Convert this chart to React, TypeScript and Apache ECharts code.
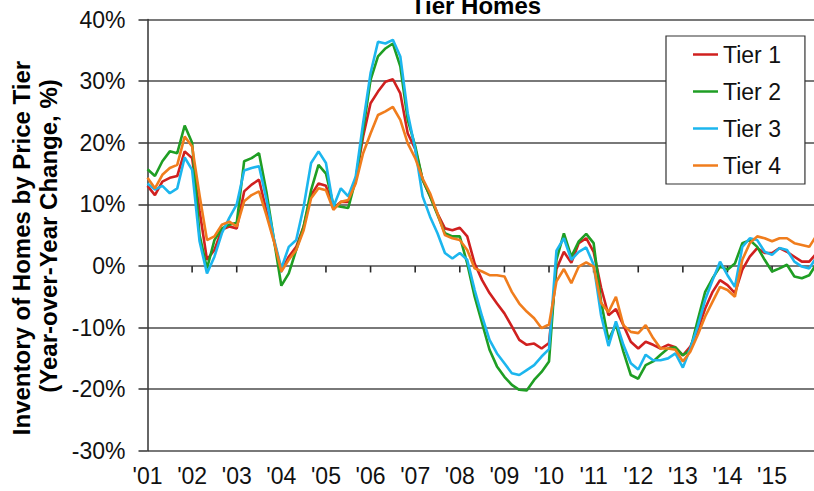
import React, { useEffect, useRef } from "react";
import * as echarts from "echarts";

// Bi-monthly observations starting Jan 2001 (step = 2 months)
const START_YEAR = 2001;
const STEP = 1 / 6;

const seriesNames = ["Tier 1", "Tier 2", "Tier 3", "Tier 4"];
const seriesColors = ["#d0201f", "#1f9e24", "#1cb6ee", "#f07d1d"];
const tickYears = [2002, 2003, 2004, 2005, 2006, 2007, 2008, 2009, 2010, 2011, 2012, 2013, 2014, 2015];

const tier1 = [
  13, 11.5, 13.7, 14.3, 14.6, 18.6, 17.5, 9, 1, 2.6, 5.9, 6.4, 6.1, 12.1, 13.2, 14, 8.9, 4.2,
  -0.8, 1.5, 3.1, 6.4, 11.5, 13.4, 13, 9.4, 10.4, 10.4, 14, 21, 26.4, 28.3, 29.9, 30.3, 28, 21.5,
  19, 14, 11.3, 8.5, 6.1, 5.8, 6.2, 4.8, 0.4, -2.3, -4.4, -6.1, -7.7, -9.8, -12, -12.8, -12.6, -13.4,
  -12.5, -0.5, 2.3, 0.5, 3.7, 4.5, 2.3, -3.5, -8, -7, -9.6, -12.3, -13.4, -12.3, -12.8, -13.4, -12.8, -13.2,
  -14.5, -13.1, -10.4, -6.9, -4.2, -2.3, -3.1, -4.4, -0.6, 1.5, 2.9, 2.1, 2.1, 2.9, 2.3, 1.5, 0.7, 0.7,
  2.1,
];

const tier2 = [
  15.7, 14.6, 17, 18.6, 18.3, 22.8, 20, 5, -0.4, 4.2, 6.1, 6.7, 7, 17, 17.5, 18.3, 12, 4.3,
  -3.2, -1.2, 2.6, 6.4, 12.3, 16.4, 15, 9.9, 9.6, 9.4, 14, 22, 30.2, 34, 35.3, 36.1, 32.4, 23.7,
  19.5, 14, 11.3, 8.3, 5.3, 4.8, 4.8, 0.4, -5, -9.3, -13.6, -16.3, -18, -19.3, -20.1, -20.2, -18.5, -17.2,
  -15.5, 1, 5.3, 1.5, 4, 5.2, 3.7, -5.8, -12, -9.5, -13.9, -17.7, -18.3, -16.1, -15.5, -14.4, -13.4, -13.2,
  -14.5, -13.6, -8.8, -4.2, -2, -0.1, -0.6, 0.4, 3.7, 4.2, 3.1, 1, -0.9, -0.4, 0.2, -1.7, -2, -1.5,
  0.4,
];

const tier3 = [
  13.4, 12.4, 13, 11.8, 12.6, 17.6, 15.6, 4, -1.2, 1.5, 5.3, 7.8, 10, 15.5, 15.9, 16.2, 10.8, 4.4,
  -0.4, 3.1, 4.2, 9.6, 16.7, 18.6, 16.7, 9.6, 12.6, 11.3, 14.5, 23.2, 31.3, 36.4, 36.1, 36.7, 34, 24.8,
  19, 11.3, 8, 5.3, 2.1, 1.2, 2.1, 1, -3.9, -8.2, -12, -14.2, -15.8, -17.4, -17.7, -16.9, -16.1, -14.7,
  -13.5, 2.5, 4.5, 1, 2.3, 3, 0.2, -8, -13, -9, -12.8, -15.8, -16.8, -14.4, -15.3, -15.3, -15, -14.2,
  -16.5, -13.4, -9.8, -5.5, -2.3, 0.7, -1.5, -3.4, 3.1, 4.5, 4.2, 2.3, 1.8, 2.9, 2.6, 0.7, -0.1, -0.4,
  1.5,
];

const tier4 = [
  14.3, 12.6, 14.8, 15.9, 16.4, 21, 19.4, 11.5, 4.2, 4.8, 6.7, 7.2, 6.4, 10.5, 11.5, 12.1, 8.2, 4,
  -0.9, 1, 2.6, 5.8, 11, 12.6, 12.3, 9.1, 10.4, 10.7, 13.4, 18.3, 21.5, 24.5, 25.1, 25.8, 23.7, 19.9,
  17.5, 14.2, 11.8, 8.5, 5, 4.5, 4.2, 2.6, -0.4, -0.9, -1.5, -1.5, -1.7, -4.2, -6.1, -7.4, -8.5, -10.1,
  -9.5, -2.5, -0.5, -2.8, -0.1, 0.6, -0.1, -6, -7.5, -5, -9.6, -10.7, -10.9, -9.6, -11.7, -13.4, -13.4, -13.6,
  -15.5, -13.9, -11.2, -8.2, -5.8, -3.4, -3.9, -5, 1, 3.7, 4.8, 4.5, 4, 4.5, 4.5, 3.7, 3.4, 3.1,
  5,
];

const allSeries = [tier1, tier2, tier3, tier4];

const titleText = "Tier Homes";
const yTitleLine1 = "Inventory of Homes by Price Tier";
const yTitleLine2 = "(Year-over-Year Change, %)";

const FONT = "'Liberation Sans', Arial, Helvetica, sans-serif";

export default function App() {
  const ref = useRef<HTMLDivElement>(null);

  useEffect(() => {
    if (!ref.current) return;
    const chart = echarts.init(ref.current, null, { renderer: "svg" });

    const lineSeries = allSeries.map((vals, k) => ({
      name: seriesNames[k],
      type: "line",
      showSymbol: false,
      symbol: "none",
      clip: true,
      color: seriesColors[k],
      lineStyle: { width: 2.6, color: seriesColors[k] },
      data: vals.map((v, i) => [START_YEAR + i * STEP, v]),
    }));

    // year tick marks that hang below the 0% line
    const tickSeries = {
      type: "custom",
      silent: true,
      clip: false,
      z: 3,
      data: tickYears.map((y) => [y, 0]),
      renderItem: (_params: any, api: any) => {
        const p = api.coord([api.value(0), api.value(1)]);
        return {
          type: "line",
          shape: { x1: p[0], y1: p[1], x2: p[0], y2: p[1] + 6.5 },
          style: { stroke: "#2a2a2a", lineWidth: 1.6 },
        };
      },
    };

    chart.setOption({
      animation: false,
      backgroundColor: "#ffffff",
      textStyle: { fontFamily: FONT },
      grid: {
        left: 147.5,
        top: 19.5,
        right: -2.7,
        bottom: 40.2,
        containLabel: false,
        outerBoundsMode: "none",
      },
      legend: {
        orient: "vertical",
        left: 666,
        top: 36,
        padding: [7, 24, 7, 27],
        itemGap: 14,
        itemWidth: 25,
        itemHeight: 2.5,
        icon: "rect",
        borderColor: "#333",
        borderWidth: 1.2,
        backgroundColor: "#ffffff",
        textStyle: { fontSize: 23, color: "#111", fontFamily: FONT },
        data: seriesNames,
      },
      xAxis: {
        type: "value",
        min: 2001,
        max: 2016,
        interval: 1,
        splitLine: { show: false },
        axisLine: { show: false, onZero: false },
        axisTick: { show: false },
        axisLabel: {
          show: true,
          margin: 14,
          fontSize: 23,
          color: "#111",
          fontFamily: FONT,
          formatter: (v: number) =>
            Number.isInteger(v) && v < 2016 ? "'" + String(v).slice(2) : "",
        },
      },
      yAxis: {
        type: "value",
        min: -30,
        max: 40,
        interval: 10,
        axisLine: { show: true, onZero: false, lineStyle: { color: "#333", width: 1.5 } },
        axisTick: { show: true, length: 9, lineStyle: { color: "#333", width: 1.5 } },
        axisLabel: {
          margin: 22,
          fontSize: 23,
          color: "#111",
          fontFamily: FONT,
          formatter: (v: number) => v + "%",
        },
        splitLine: { show: true, lineStyle: { color: "#4d4d4d", width: 1.5 } },
      },
      graphic: [
        {
          type: "text",
          x: 476,
          y: 5,
          style: {
            text: titleText,
            fill: "#000",
            font: `bold 24px ${FONT}`,
            align: "center",
            verticalAlign: "middle",
          },
        },
        {
          type: "text",
          x: 21.5,
          y: 248,
          rotation: Math.PI / 2,
          style: {
            text: yTitleLine1,
            fill: "#000",
            font: `bold 24px ${FONT}`,
            align: "center",
            verticalAlign: "middle",
          },
        },
        {
          type: "text",
          x: 48,
          y: 236,
          rotation: Math.PI / 2,
          style: {
            text: yTitleLine2,
            fill: "#000",
            font: `bold 24px ${FONT}`,
            align: "center",
            verticalAlign: "middle",
          },
        },
      ],
      series: [...lineSeries, tickSeries],
    });

    return () => chart.dispose();
  }, []);

  return (
    <div
      ref={ref}
      style={{ position: "fixed", left: 0, top: 0, width: 814, height: 491, background: "#fff" }}
    />
  );
}
